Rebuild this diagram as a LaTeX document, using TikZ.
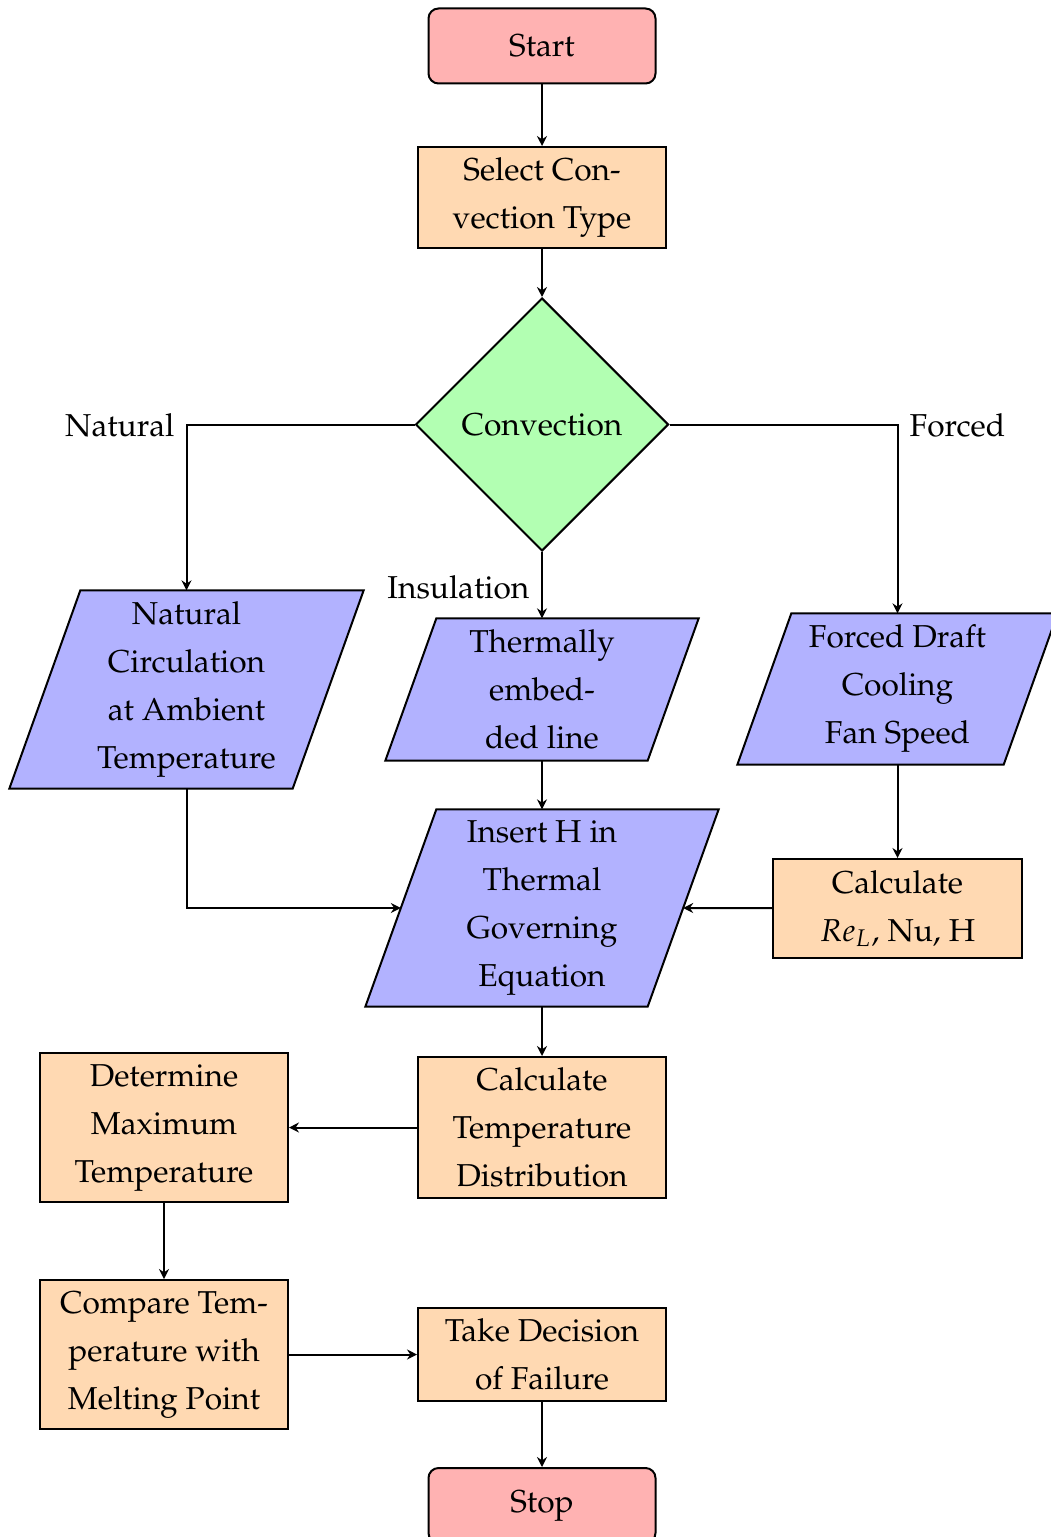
\documentclass[tikz,border=0pt]{standalone}
\usepackage[T1]{fontenc}
\usepackage{mathpazo}
\usetikzlibrary{shapes.geometric,arrows.meta,backgrounds}
\begin{document}
\begin{tikzpicture}[x=0.3pt,y=-0.3pt,
  font=\fontsize{9.5}{14.4}\selectfont,
  every node/.style={align=center},
  base/.style={draw, semithick, minimum width=74.4pt, inner sep=0pt},
  terminal/.style={base, rounded corners=3pt, fill=red!30, minimum width=68.1pt, minimum height=22.5pt},
  process/.style={base, fill=orange!30},
  decision/.style={diamond, draw, semithick, fill=green!30, minimum width=75.9pt, minimum height=75.9pt, inner sep=0pt},
  io/.style={inner sep=0pt},
  conn/.style={semithick, -{Stealth[length=3pt,width=3pt,inset=1pt]}},
  lbl/.style={inner sep=0pt},
]
\useasboundingbox (0,0) rectangle (1050,1537);

% flowchart steps
\node[terminal] (start) at (542,46) {Start};
\node[process, minimum height=30.3pt] (select) at (542,197.5) {Select Con-\\vection Type};
\node[decision] (conv) at (542,424.5) {Convection};
\node[io, minimum width=84.6pt, minimum height=59.1pt] (natural) at (186.5,689.5) {Natural\\Circulation\\at Ambient\\Temperature};
\node[io, minimum width=78.3pt, minimum height=42.3pt] (thermal) at (542,689.5) {Thermally\\embed-\\ded line};
\node[io, minimum width=79.5pt, minimum height=45pt] (forced) at (897.5,689) {Forced Draft\\Cooling\\Fan Speed};
\node[io, minimum width=84.3pt, minimum height=58.8pt] (insert) at (542,908) {Insert H in\\Thermal\\Governing\\Equation};
\node[process, minimum width=74.7pt, minimum height=29.7pt] (calcre) at (897.5,908.5) {Calculate\\$Re_L$, Nu, H};
\node[process, minimum height=42.3pt] (calctemp) at (542,1127.5) {Calculate\\Temperature\\Distribution};
\node[process, minimum height=44.7pt] (determine) at (164,1127.5) {Determine\\Maximum\\Temperature};
\node[process, minimum height=44.7pt] (compare) at (164,1354.5) {Compare Tem-\\perature with\\Melting Point};
\node[process, minimum height=27.9pt] (take) at (542,1354.5) {Take Decision\\of Failure};
\node[terminal] (stop) at (542,1505.5) {Stop};

% slanted input/output boxes behind their texts
\begin{scope}[on background layer]
  \foreach \n/\d in {natural/21.3pt, thermal/15.3pt, forced/16.2pt, insert/21.3pt}
    \filldraw[semithick, fill=blue!30]
      ([xshift=\d/2]\n.north west) -- ([xshift=\d/2]\n.north east) --
      ([xshift=-\d/2]\n.south east) -- ([xshift=-\d/2]\n.south west) -- cycle;
\end{scope}

% branch labels
\node[lbl, anchor=east] (lnat) at (175,425) {Natural};
\node[lbl, anchor=west] (lforced) at (909,425) {Forced};
\node[lbl, anchor=east] (lins) at (530,587) {Insulation};

% connectors
\draw[conn] (start) -- (select);
\draw[conn] (select) -- (conv);
\draw[conn] (conv.west) -| (natural.north);
\draw[conn] (conv.east) -| (forced.north);
\draw[conn] (conv.south) -- (thermal.north);
\draw[conn] (thermal) -- (insert);
\draw[conn] (natural.south) |- (insert.west);
\draw[conn] (forced) -- (calcre);
\draw[conn] (calcre) -- (insert.east);
\draw[conn] (insert) -- (calctemp);
\draw[conn] (calctemp) -- (determine);
\draw[conn] (determine) -- (compare);
\draw[conn] (compare) -- (take);
\draw[conn] (take) -- (stop);
\end{tikzpicture}
\end{document}
